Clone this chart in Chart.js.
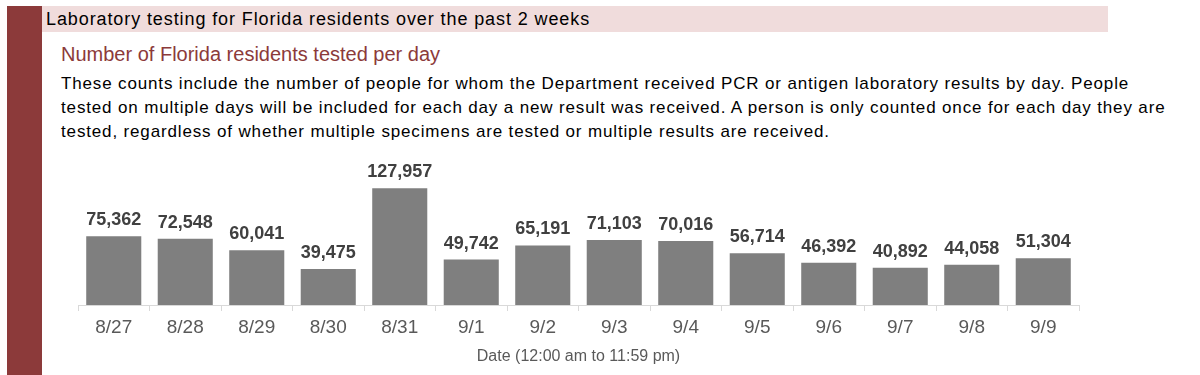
<!DOCTYPE html>
<html>
<head>
<meta charset="utf-8">
<script src="https://cdn.jsdelivr.net/npm/chart.js@4"></script>
<style>
  body { margin: 0; width: 1200px; height: 375px; overflow: hidden; background: #fff; font-family: "Liberation Sans", Arial, sans-serif; position: relative; }
  #sidebar { position: absolute; left: 7px; top: 6px; width: 35px; height: 369px; background: #8c3a3a; }
  #header { position: absolute; left: 42px; top: 6px; width: 1066px; height: 26px; background: #f0dcdc; }
  #header span { position: absolute; left: 4px; top: 3px; font-size: 18px; line-height: 20px; letter-spacing: 0.9px; color: #000; white-space: nowrap; }
  #subtitle { position: absolute; left: 61px; top: 43px; font-size: 20px; line-height: 22px; color: #8c3a3a; white-space: nowrap; }
  #desc { position: absolute; left: 61px; top: 72px; font-size: 17px; line-height: 24px; letter-spacing: 0.85px; color: #000; white-space: nowrap; }
  #chartBox { position: absolute; left: 60px; top: 150px; width: 1040px; height: 225px; }
</style>
</head>
<body>
<div id="sidebar"></div>
<div id="header"><span>Laboratory testing for Florida residents over the past 2 weeks</span></div>
<div id="subtitle">Number of Florida residents tested per day</div>
<div id="desc">These counts include the number of people for whom the Department received PCR or antigen laboratory results by day. People<br>tested on multiple days will be included for each day a new result was received. A person is only counted once for each day they are<br>tested, regardless of whether multiple specimens are tested or multiple results are received.</div>
<div id="chartBox"><canvas id="testsChart"></canvas></div>
<script>
// chart data
const dates = ['8/27', '8/28', '8/29', '8/30', '8/31', '9/1', '9/2', '9/3', '9/4', '9/5', '9/6', '9/7', '9/8', '9/9'];
const residentsTested = [75362, 72548, 60041, 39475, 127957, 49742, 65191, 71103, 70016, 56714, 46392, 40892, 44058, 51304];
const axisTitle = 'Date (12:00 am to 11:59 pm)';

// draw the value above each bar
const barLabels = {
    id: 'barLabels',
    afterDatasetsDraw(chart) {
        const ctx = chart.ctx;
        const meta = chart.getDatasetMeta(0);
        ctx.save();
        ctx.font = 'bold 18px "Liberation Sans", Arial, sans-serif';
        ctx.fillStyle = '#404040';
        ctx.textAlign = 'center';
        ctx.textBaseline = 'alphabetic';
        meta.data.forEach(function(bar, i) {
            ctx.fillText(residentsTested[i].toLocaleString('en-US'), bar.x, bar.y - 11);
        });
        ctx.restore();
    }
};

let ctx = document.getElementById('testsChart').getContext('2d');
let testsChart = new Chart(ctx, {
    type: 'bar',
    data: {
        labels: dates,
        datasets: [{
            data: residentsTested,
            backgroundColor: '#7f7f7f',
            categoryPercentage: 1,
            barPercentage: 0.77
        }]
    },
    options: {
        responsive: true,
        maintainAspectRatio: false,
        animation: false,
        layout: { padding: { left: 18, right: 21, top: 18, bottom: 9 } },
        scales: {
            x: {
                grid: {
                    drawOnChartArea: false,
                    tickLength: 6,
                    color: '#d9d9d9'
                },
                border: { color: '#d9d9d9' },
                ticks: {
                    color: '#595959',
                    padding: 5,
                    font: { family: '"Liberation Sans", Arial, sans-serif', size: 19 }
                },
                title: {
                    display: true,
                    text: axisTitle,
                    color: '#595959',
                    padding: { top: 3, bottom: 0 },
                    font: { family: '"Liberation Sans", Arial, sans-serif', size: 16 }
                }
            },
            y: {
                display: false,
                min: 0,
                max: 150000
            }
        },
        plugins: {
            legend: { display: false },
            tooltip: { enabled: false }
        }
    },
    plugins: [barLabels]
});
</script>
</body>
</html>
